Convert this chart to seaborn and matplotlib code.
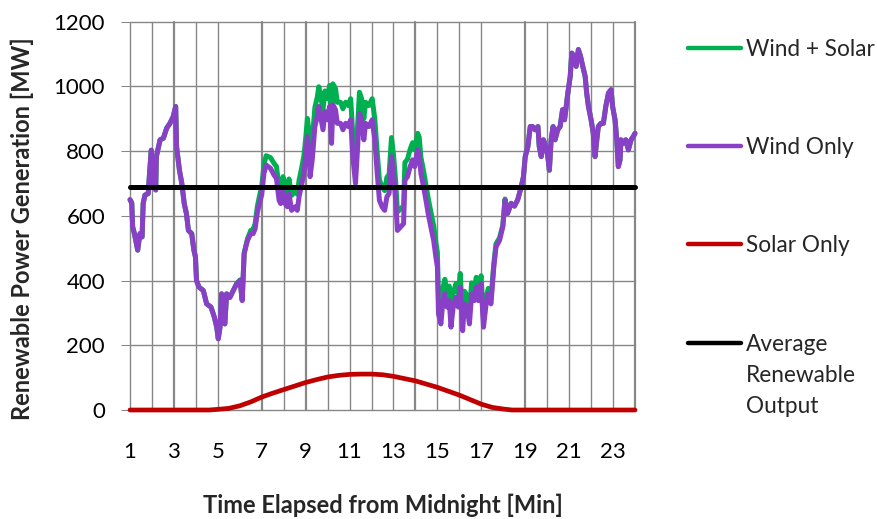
import numpy as np
import pandas as pd
import matplotlib
matplotlib.use("Agg")
import matplotlib.pyplot as plt
from matplotlib.lines import Line2D
import seaborn as sns

# Sample instants (hours along the day)
wind_hours = [
    1.00, 1.08, 1.12, 1.20, 1.35, 1.45, 1.55, 1.60, 1.68, 1.83, 1.90, 1.97, 2.02, 2.17, 2.20,
    2.37, 2.52, 2.67, 2.82, 2.90, 2.97, 3.08, 3.12, 3.25, 3.36, 3.47, 3.57, 3.66, 3.81, 3.91,
    3.98, 4.03, 4.14, 4.34, 4.49, 4.69, 4.84, 4.95, 5.02, 5.10, 5.17, 5.32, 5.40, 5.55, 5.70,
    5.86, 6.01, 6.11, 6.20, 6.35, 6.50, 6.61, 6.70, 6.80, 6.90, 7.00, 7.10, 7.20, 7.40, 7.56,
    7.67, 7.79, 7.86, 7.97, 8.06, 8.17, 8.24, 8.36, 8.52, 8.62, 8.70, 8.80, 8.92, 9.00, 9.08,
    9.15, 9.20, 9.30, 9.42, 9.53, 9.60, 9.68, 9.79, 9.88, 9.98, 10.09, 10.18, 10.24, 10.36,
    10.44, 10.59, 10.70, 10.82, 10.94, 11.05, 11.15, 11.27, 11.36, 11.45, 11.55, 11.65, 11.73,
    11.88, 12.03, 12.15, 12.26, 12.36, 12.48, 12.60, 12.70, 12.80, 12.91, 13.00, 13.10, 13.18,
    13.33, 13.46, 13.52, 13.64, 13.76, 13.87, 13.97, 14.10, 14.17, 14.25, 14.37, 14.48, 14.58,
    14.70, 14.83, 14.93, 15.00, 15.05, 15.16, 15.24, 15.34, 15.44, 15.54, 15.62, 15.72, 15.85,
    15.95, 16.04, 16.15, 16.23, 16.35, 16.46, 16.56, 16.68, 16.77, 16.87, 16.99, 17.10, 17.22,
    17.32, 17.44, 17.57, 17.67, 17.83, 17.98, 18.08, 18.20, 18.36, 18.51, 18.66, 18.82, 18.92,
    19.00, 19.12, 19.23, 19.33, 19.45, 19.58, 19.64, 19.73, 19.83, 19.94, 20.03, 20.10, 20.18,
    20.27, 20.36, 20.48, 20.59, 20.70, 20.79, 20.85, 20.94, 21.05, 21.12, 21.23, 21.32, 21.42,
    21.52, 21.62, 21.73, 21.80, 21.88, 22.00, 22.10, 22.18, 22.26, 22.33, 22.45, 22.56, 22.67,
    22.79, 22.91, 22.98, 23.09, 23.17, 23.24, 23.32, 23.36, 23.47, 23.58, 23.70, 23.82, 23.92,
    24.00,
]

# Wind only [MW]
wind_mw = [
    650, 640, 566, 545, 494, 545, 535, 638, 664, 669, 741, 803, 710, 680, 783,
    835, 840, 871, 886, 897, 907, 938, 814, 742, 700, 638, 607, 555, 545, 494,
    473, 400, 380, 369, 328, 318, 287, 256, 220, 256, 359, 266, 359, 348, 369,
    390, 400, 338, 483, 524, 545, 545, 560, 610, 640, 665, 731, 757, 747, 726,
    716, 648, 638, 679, 638, 628, 669, 617, 628, 617, 659, 690, 731, 783, 845,
    804, 721, 773, 876, 907, 938, 907, 866, 922, 897, 938, 824, 943, 928,
    886, 886, 866, 886, 876, 897, 783, 700, 804, 917, 897, 835, 886,
    876, 897, 835, 731, 648, 628, 617, 659, 669, 783, 731, 648, 555,
    566, 576, 710, 721, 752, 773, 752, 804, 793, 731, 690, 648, 607,
    566, 524, 473, 442, 297, 266, 328, 359, 318, 338, 256, 318, 348,
    318, 380, 245, 328, 318, 266, 359, 338, 380, 338, 390, 256, 328,
    359, 328, 442, 504, 524, 566, 648, 607, 638, 630, 650, 690, 721,
    783, 814, 876, 876, 866, 876, 814, 783, 835, 814, 783, 741, 835,
    876, 835, 866, 876, 928, 897, 928, 979, 1031, 1103, 1093, 1062, 1114,
    1093, 1062, 1031, 979, 938, 897, 855, 783, 835, 876, 886, 886, 938,
    979, 990, 938, 897, 835, 752, 773, 835, 824, 835, 804, 835, 845,
    855,
]

# Wind + solar [MW]
wind_solar_mw = [
    650, 640, 566, 545, 494, 545, 535, 638, 664, 669, 741, 803, 710, 680, 783,
    835, 840, 871, 886, 897, 907, 938, 814, 742, 700, 638, 607, 555, 545, 494,
    473, 400, 380, 369, 328, 318, 287, 256, 220, 256, 359, 266, 359, 348, 369,
    391, 402, 340, 486, 529, 555, 558, 576, 629, 662, 690, 758, 786, 780, 762,
    753, 687, 678, 721, 681, 672, 714, 663, 676, 667, 710, 742, 785, 838, 901,
    861, 778, 831, 935, 967, 999, 969, 929, 986, 962, 1003, 889, 1008, 993,
    951, 951, 931, 951, 941, 962, 848, 765, 869, 982, 962, 900, 951,
    941, 962, 899, 794, 711, 690, 678, 719, 728, 842, 789, 706, 612,
    622, 631, 765, 775, 806, 826, 804, 855, 844, 781, 739, 696, 655,
    613, 570, 518, 487, 342, 311, 373, 404, 363, 383, 300, 362, 391,
    360, 422, 285, 367, 355, 302, 393, 370, 410, 366, 415, 278, 347,
    376, 342, 453, 514, 532, 571, 652, 610, 639, 630, 650, 690, 721,
    783, 814, 876, 876, 866, 876, 814, 783, 835, 814, 783, 741, 835,
    876, 835, 866, 876, 928, 897, 928, 979, 1031, 1103, 1093, 1062, 1114,
    1093, 1062, 1031, 979, 938, 897, 855, 783, 835, 876, 886, 886, 938,
    979, 990, 938, 897, 835, 752, 773, 835, 824, 835, 804, 835, 845,
    855,
]

# Solar only [MW]
solar_hours = [1, 2, 3, 4, 4.6, 5, 5.5, 6, 6.5, 7, 7.5, 8, 8.5, 9, 9.5, 10, 10.5, 11, 11.5,
               12, 12.5, 13, 13.5, 14, 14.5, 15, 15.5, 16, 16.5, 17, 17.5, 18, 18.4, 19,
               20, 21, 22, 23, 24]
solar_mw = [0, 0, 0, 0, 0, 2, 5, 13, 25, 40, 52, 63, 74, 85, 94, 102, 107, 110, 111,
            111, 109, 104, 97, 90, 80, 70, 58, 46, 32, 18, 8, 3, 0, 0,
            0, 0, 0, 0, 0]

average_mw = 690

x_tick_values = list(range(1, 24, 2))
y_tick_values = [0, 200, 400, 600, 800, 1000, 1200]
grid_hours = [1, 2, 3, 4, 5, 7, 8, 9, 10, 11, 12, 13, 14, 15, 16, 17, 19, 20, 21, 22, 23, 24]
heavy_grid_hours = [3, 7, 9, 14, 19, 24]

series_labels = ["Wind + Solar", "Wind Only", "Solar Only", "Average\nRenewable\nOutput"]
series_colors = ["#00B050", "#8A40C6", "#C00000", "#000000"]

sns.set_theme(style="white")
plt.rcParams["font.family"] = ["Lato", "DejaVu Sans"]

W, H = 877, 519
fig = plt.figure(figsize=(W / 100, H / 100), dpi=100)
ax = fig.add_axes([130 / W, 1 - 410 / H, 505 / W, 388.3 / H])

grid_color = "#878787"

df_combined = pd.DataFrame({"hour": wind_hours, "mw": wind_solar_mw})
df_wind = pd.DataFrame({"hour": wind_hours, "mw": wind_mw})
df_solar = pd.DataFrame({"hour": solar_hours, "mw": solar_mw})

line_kw = dict(x="hour", y="mw", estimator=None, ax=ax, legend=False)
sns.lineplot(data=df_combined, color=series_colors[0], lw=3.6, **line_kw)
sns.lineplot(data=df_wind, color=series_colors[1], lw=3.6, **line_kw)
sns.lineplot(data=df_solar, color=series_colors[2], lw=3.4, **line_kw)
ax.axhline(average_mw, color=series_colors[3], lw=3.6, zorder=5)

for ln in ax.lines:
    ln.set_clip_on(False)
    ln.set_solid_capstyle("round")
    ln.set_solid_joinstyle("round")

# Grid
for h in grid_hours:
    ax.axvline(h, color=grid_color, lw=1.6 if h in heavy_grid_hours else 1.0,
               zorder=0, clip_on=False)
for yv in y_tick_values:
    ax.axhline(yv, color=grid_color, lw=1.0, zorder=0, clip_on=False)

ax.set_xlim(1, 24)
ax.set_ylim(0, 1200)
ax.set_xticks(x_tick_values)
ax.set_yticks(y_tick_values)
ax.tick_params(axis="x", length=0, pad=23, labelsize=16, colors="black")
ax.tick_params(axis="y", length=6.5, width=0.75, color=grid_color, pad=11.5,
               labelsize=16, labelcolor="black", left=True)
for s in ax.spines.values():
    s.set_visible(False)
ax.set_xlabel("")
ax.set_ylabel("")

fig.text(383 / W, 1 - 505 / H, "Time Elapsed from Midnight [Min]", ha="center",
         va="center", fontsize=17, fontweight="bold")
fig.text(22.5 / W, 1 - 228.5 / H, "Renewable Power Generation [MW]", ha="center",
         va="center", rotation=90, fontsize=17, fontweight="bold")

# Legend
legend_rows = [48, 146, 244, 343]
for label, color, yc in zip(series_labels, series_colors, legend_rows):
    fig.add_artist(Line2D([688 / W, 741 / W], [1 - yc / H] * 2, color=color, lw=3.2,
                          solid_capstyle="round"))
    for i, part in enumerate(label.split("\n")):
        fig.text(746 / W, 1 - (yc + 8 + 31.2 * i) / H, part, ha="left",
                 va="baseline", fontsize=16.3)

fig.savefig("out.png", dpi=100)
